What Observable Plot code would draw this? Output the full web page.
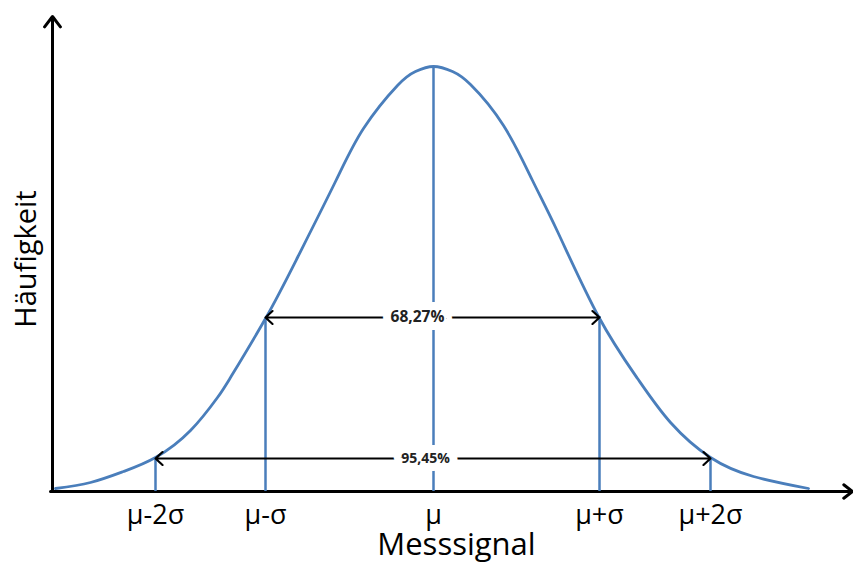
<!DOCTYPE html>
<html>
<head>
<meta charset="utf-8">
<script src="https://cdn.jsdelivr.net/npm/d3@7"></script>
<script src="https://cdn.jsdelivr.net/npm/@observablehq/plot@0.6"></script>
<style>
  html, body { margin: 0; padding: 0; background: #fff; }
</style>
</head>
<body>
<div id="chart"></div>
<script>
// Normal distribution of a measured signal (Messsignal vs. Häufigkeit)
const curveX = [3, 38, 71, 103, 138, 165, 178, 213, 245, 283, 311, 345, 363, 381, 400, 418, 451, 480, 505, 546, 585, 618, 658, 701, 756];
const curveY = [3, 9, 20, 34, 61, 94, 114, 173, 234, 310, 363, 406, 420, 425, 420, 407, 366, 311, 260, 175, 113, 69, 34, 15, 3];

// Marked positions μ-2σ … μ+2σ and the curve height there
const markX = [103, 213, 381, 547, 658];
const markY = [34, 173, 425, 175, 34];
const markLabels = ["μ-2σ", "μ-σ", "μ", "μ+σ", "μ+2σ"];

// Share of values inside ±σ and ±2σ
const bandLabels = ["68,27%", "95,45%"];
const bandFrom = [213, 103];
const bandTo = [547, 658];
const bandY = [174, 33];
const bandLabelX = [365, 373];

const axisMax = { x: 800, y: 475 };

const curve = curveX.map((x, i) => ({ x, y: curveY[i] }));
const marks = markX.map((x, i) => ({ x, y: markY[i], label: markLabels[i] }));
const bands = bandLabels.map((label, i) => ({
  label, from: bandFrom[i], to: bandTo[i], y: bandY[i], mid: bandLabelX[i]
}));
const bandArrows = bands.flatMap(b => [
  { x1: b.mid, x2: b.from, y: b.y },
  { x1: b.mid, x2: b.to, y: b.y }
]);

const blue = "#4a7ebb";
const font = "Open Sans";

const chart = Plot.plot({
  width: 853,
  height: 563,
  marginLeft: 52,
  marginRight: 1,
  marginTop: 16,
  marginBottom: 72,
  style: { fontFamily: font, background: "white", color: "black" },
  x: { domain: [0, axisMax.x] },
  y: { domain: [0, axisMax.y], axis: null },
  marks: [
    // axes with arrow heads
    Plot.arrow([{ x1: 0, y1: 0, x2: 0, y2: axisMax.y }], {
      x1: "x1", y1: "y1", x2: "x2", y2: "y2",
      stroke: "black", strokeWidth: 3, headLength: 6.5, headAngle: 75
    }),
    Plot.arrow([{ x1: -2, y1: 0, x2: axisMax.x, y2: 0 }], {
      x1: "x1", y1: "y1", x2: "x2", y2: "y2",
      stroke: "black", strokeWidth: 3, headLength: 5.5, headAngle: 75
    }),
    // vertical markers up to the curve
    Plot.ruleX(marks, { x: "x", y1: 0, y2: "y", stroke: blue, strokeWidth: 2.5 }),
    // the bell curve
    Plot.line(curve, {
      x: "x", y: "y", curve: "natural",
      stroke: blue, strokeWidth: 2.8
    }),
    // double-headed arrows for the intervals
    Plot.arrow(bandArrows, {
      x1: "x1", x2: "x2", y1: "y", y2: "y",
      stroke: "black", strokeWidth: 2.2, headLength: 6.5, headAngle: 85
    }),
    Plot.text(bands, {
      x: "mid", y: "y", text: "label",
      fontWeight: "bold", fontSize: (d, i) => (i === 0 ? 15.5 : 14),
      fill: "#222", stroke: "white", strokeWidth: 16
    }),
    // tick labels
    Plot.axisX(markX, {
      tickSize: 0, tickPadding: 13, fontSize: 27, label: null,
      tickFormat: d => markLabels[markX.indexOf(d)]
    }),
    // axis titles
    Plot.text(["Messsignal"], {
      frameAnchor: "bottom", lineAnchor: "bottom", dy: 63, dx: 4,
      fontSize: 31, text: d => d
    }),
    Plot.text(["Häufigkeit"], {
      frameAnchor: "left", textAnchor: "middle", dx: -26, dy: 5,
      rotate: -90, fontSize: 29, text: d => d
    })
  ]
});

document.getElementById("chart").append(chart);
</script>
</body>
</html>
